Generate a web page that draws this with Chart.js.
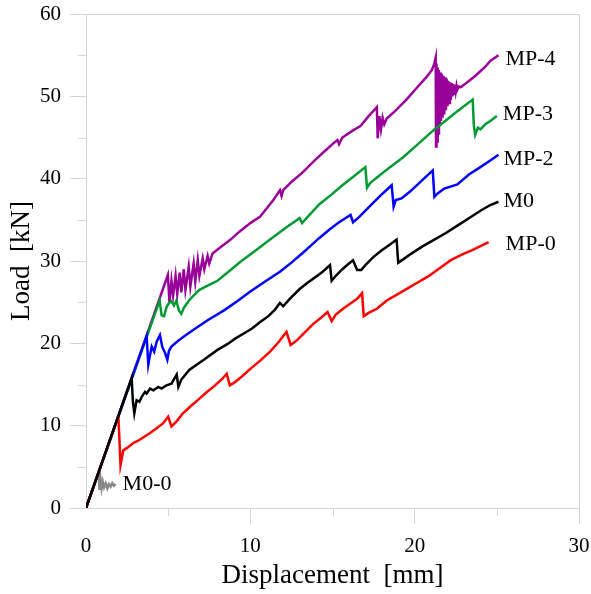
<!DOCTYPE html>
<html>
<head>
<meta charset="utf-8">
<script src="https://cdn.jsdelivr.net/npm/chart.js@4/dist/chart.umd.min.js"></script>
<style>
  html, body { margin: 0; padding: 0; background: #fff; }
  #chart { display: block; }
</style>
</head>
<body>
<canvas id="chart" width="591" height="594"></canvas>
<script>
// Load - displacement curves, [displacement mm, load kN]
const seriesNames = ['M0', 'MP-0', 'MP-2', 'MP-3', 'MP-4', 'M0-0'];

const m0 = [
  [0, 0], [2.78, 15.8], [2.85, 13.0], [2.94, 11.5], [3.08, 13.1], [3.25, 12.9], [3.39, 13.5],
  [3.59, 14.1], [3.69, 13.9], [3.9, 14.5], [4.1, 14.3], [4.4, 14.7], [4.6, 14.5], [4.9, 14.9],
  [5.2, 15.1], [5.52, 16.2], [5.62, 14.7], [5.8, 15.6], [6.3, 16.8], [6.8, 17.5], [7.3, 18.2],
  [8.0, 19.2], [8.6, 19.9], [9.1, 20.6], [9.6, 21.2], [10.1, 21.8], [10.6, 22.6], [11.1, 23.3],
  [11.5, 24.1], [11.8, 24.9], [12.0, 24.5], [12.4, 25.4], [13.0, 26.6], [13.5, 27.4], [14.0, 28.1],
  [14.4, 28.7], [14.85, 29.5], [14.95, 27.6], [15.2, 28.2], [15.6, 29.0], [16.0, 29.7], [16.25, 30.1],
  [16.5, 28.9], [16.75, 28.9], [17.0, 29.5], [17.5, 30.5], [18.0, 31.3], [18.5, 32.0], [18.9, 32.6],
  [19.0, 29.8], [19.3, 30.2], [19.8, 30.9], [20.5, 31.8], [21.2, 32.6], [21.9, 33.4], [22.6, 34.3],
  [23.3, 35.2], [24.0, 36.1], [24.6, 36.8], [25.1, 37.2],
];

const mp0 = [
  [0, 0], [1.97, 11.1], [2.03, 8.5], [2.1, 5.2], [2.27, 7.0], [2.5, 7.3], [2.88, 7.9], [3.2, 8.2],
  [3.5, 8.6], [3.9, 9.1], [4.3, 9.7], [4.7, 10.3], [5.0, 11.1], [5.2, 9.9], [5.5, 10.5], [5.9, 11.5],
  [6.33, 12.3], [6.8, 13.1], [7.3, 14.0], [7.8, 14.8], [8.3, 15.7], [8.56, 16.3], [8.75, 14.9],
  [9.0, 15.2], [9.5, 16.0], [10.0, 16.9], [10.6, 17.9], [11.2, 19.0], [11.7, 20.1], [12.2, 21.4],
  [12.45, 19.8], [12.8, 20.3], [13.3, 21.3], [13.8, 22.3], [14.3, 23.1], [14.7, 23.8], [14.95, 22.7],
  [15.2, 23.5], [15.7, 24.3], [16.2, 25.0], [16.5, 25.4], [16.8, 26.1], [16.9, 23.3], [17.2, 23.7],
  [17.7, 24.2], [18.3, 25.2], [19.0, 26.0], [19.6, 26.7], [20.1, 27.3], [20.8, 28.1], [21.5, 29.1],
  [22.2, 30.1], [22.9, 30.8], [23.6, 31.4], [24.5, 32.3],
];

const mp2 = [
  [0, 0], [3.69, 20.9], [3.79, 17.4], [3.9, 18.6], [4.0, 19.6], [4.15, 19.0], [4.3, 20.2],
  [4.5, 21.0], [4.65, 19.5], [4.8, 18.9], [4.95, 18.0], [5.05, 19.1], [5.2, 19.6], [5.6, 20.3],
  [6.0, 20.9], [6.5, 21.6], [7.4, 22.8], [8.4, 24.0], [9.2, 25.1], [10.0, 26.3], [10.9, 27.5],
  [11.8, 28.7], [12.5, 29.8], [13.2, 31.0], [13.7, 31.9], [14.2, 32.8], [14.8, 33.8], [15.4, 34.7],
  [16.1, 35.6], [16.25, 34.7], [16.6, 35.3], [17.2, 36.5], [17.9, 37.9], [18.6, 39.2], [18.72, 36.6],
  [18.85, 37.4], [19.2, 37.6], [19.7, 38.4], [20.4, 39.7], [21.1, 41.0], [21.2, 37.8], [21.4, 38.2],
  [21.8, 38.8], [22.6, 39.3], [23.3, 40.5], [24.0, 41.4], [24.6, 42.2], [25.1, 42.9],
];

const mp3 = [
  [0, 0], [4.48, 25.2], [4.6, 23.4], [4.75, 23.3], [4.9, 24.4], [5.05, 24.9], [5.2, 25.1],
  [5.35, 24.6], [5.5, 25.2], [5.65, 24.0], [5.8, 23.6], [5.95, 24.3], [6.3, 25.3], [6.9, 26.5],
  [7.4, 27.0], [8.0, 27.6], [8.8, 28.9], [9.4, 29.9], [10.2, 31.1], [11.2, 32.6], [12.2, 34.1],
  [13.0, 35.2], [13.15, 34.6], [13.6, 35.6], [14.2, 36.9], [14.9, 38.0], [15.6, 39.2], [16.3, 40.3],
  [17.0, 41.4], [17.1, 38.9], [17.3, 39.5], [17.8, 40.3], [18.5, 41.4], [19.3, 42.6], [20.2, 44.2],
  [21.1, 45.8], [21.8, 46.9], [22.6, 48.2], [23.53, 49.6], [23.6, 46.5], [23.68, 45.3], [23.85, 46.2],
  [24.0, 46.0], [24.3, 46.6], [24.6, 47.0], [25.0, 47.6],
];

const mp4 = [
  [0, 0], [4.98, 28.3], [5.08, 25.0], [5.2, 27.6], [5.3, 25.8], [5.45, 28.2], [5.55, 26.0],
  [5.7, 28.6], [5.8, 26.2], [5.95, 29.0], [6.05, 26.5], [6.25, 29.3], [6.35, 26.9], [6.55, 29.7],
  [6.65, 27.5], [6.8, 30.1], [6.9, 28.2], [7.1, 30.3], [7.2, 29.0], [7.4, 30.6], [7.5, 29.7],
  [7.7, 30.9], [8.2, 31.7], [8.8, 32.6], [9.3, 33.5], [10.0, 34.6],
  [10.6, 35.4], [11.0, 36.4], [11.4, 37.4], [11.8, 38.6], [11.9, 37.9], [12.0, 38.6], [12.5, 39.6],
  [13.2, 40.8], [13.9, 42.2], [14.5, 43.3], [15.0, 44.2], [15.3, 44.7], [15.4, 44.2], [15.6, 45.0],
  [16.2, 45.8], [16.7, 46.4], [17.2, 47.6], [17.7, 48.7], [17.75, 44.9], [17.85, 47.6], [17.95, 46.0],
  [18.05, 47.4], [18.15, 46.6], [18.3, 47.3], [18.8, 48.2], [19.5, 49.6], [20.2, 51.2], [20.7, 52.3],
  [21.05, 53.2], [21.2, 54.0], [21.28, 54.7], [21.3, 43.9], [21.33, 54.0], [21.36, 44.5], [21.4, 53.5],
  [21.44, 45.5], [21.48, 53.2], [21.52, 46.5], [21.56, 52.9], [21.6, 47.0], [21.65, 52.7], [21.7, 47.4],
  [21.75, 52.5], [21.8, 47.8], [21.85, 52.3], [21.9, 48.3], [21.95, 52.1], [22.0, 48.8], [22.05, 51.9],
  [22.1, 49.2], [22.15, 51.7], [22.2, 49.6], [22.25, 51.6], [22.3, 50.0], [22.35, 51.5], [22.4, 50.3],
  [22.45, 51.4], [22.5, 50.6], [22.55, 51.3], [22.6, 50.8], [22.7, 51.2], [22.8, 51.1], [23.2, 51.7],
  [23.7, 52.5], [24.3, 53.6], [24.6, 54.3], [25.1, 55.0],
];

const m00 = [
  [0, 0], [0.78, 4.4], [0.82, 2.2], [0.88, 3.6], [0.95, 2.4], [1.02, 3.2], [1.1, 2.5], [1.2, 3.0],
  [1.3, 2.4], [1.4, 2.9], [1.5, 2.6], [1.6, 3.0], [1.7, 2.7], [1.8, 2.9],
];

const seriesData = [m0, mp0, mp2, mp3, mp4, m00];
const seriesColors = ['#000000', '#ff0000', '#0000ff', '#009933', '#990099', '#888888'];
// pixel offset of each end label from the last point of its curve
const labelOffsets = [[5, -1], [17, 2], [5, 4], [6, -2], [7, 4], [7, 0]];

const xTicks = [0, 10, 20, 30];
const yTicks = [0, 10, 20, 30, 40, 50, 60];

const FONT = "'Liberation Serif', 'Times New Roman', serif";
const FRAME = '#d4d4d4';

// Рамка и короткие деления (5, 15, 25 ...)
const framePlugin = {
  id: 'frame',
  beforeDatasetsDraw(chart) {
    const { ctx, chartArea: a, scales } = chart;
    ctx.save();
    ctx.strokeStyle = FRAME;
    ctx.lineWidth = 1;
    ctx.strokeRect(a.left + 0.5, a.top + 0.5, a.right - a.left, a.bottom - a.top);
    ctx.beginPath();
    for (let v = 5; v < 30; v += 10) {
      const px = Math.round(scales.x.getPixelForValue(v)) + 0.5;
      ctx.moveTo(px, a.bottom);
      ctx.lineTo(px, a.bottom + 8);
    }
    for (let v = 5; v < 60; v += 10) {
      const py = Math.round(scales.y.getPixelForValue(v)) + 0.5;
      ctx.moveTo(a.left - 8, py);
      ctx.lineTo(a.left, py);
    }
    ctx.stroke();
    ctx.restore();
  },
};

// Подписи серий у конца каждой кривой
const endLabelPlugin = {
  id: 'endLabels',
  afterDatasetsDraw(chart) {
    const { ctx, scales } = chart;
    ctx.save();
    ctx.font = `22px ${FONT}`;
    ctx.fillStyle = '#000';
    ctx.textAlign = 'left';
    ctx.textBaseline = 'middle';
    chart.data.datasets.forEach((ds, i) => {
      const last = ds.data[ds.data.length - 1];
      const px = scales.x.getPixelForValue(last.x) + labelOffsets[i][0];
      const py = scales.y.getPixelForValue(last.y) + labelOffsets[i][1];
      ctx.fillText(ds.label, px, py);
    });
    ctx.restore();
  },
};

const majorTickColor = (ticks) => (ctx) =>
  ctx.tick && ticks.includes(ctx.tick.value) ? FRAME : 'rgba(0,0,0,0)';

new Chart(document.getElementById('chart'), {
  type: 'scatter',
  data: {
    datasets: seriesData.map((pts, i) => ({
      label: seriesNames[i],
      data: pts.map(([x, y]) => ({ x, y })),
      showLine: true,
      borderColor: seriesColors[i],
      backgroundColor: seriesColors[i],
      borderWidth: 2.5,
      pointRadius: 0,
      tension: 0,
    })),
  },
  options: {
    responsive: false,
    animation: false,
    events: [],
    layout: { padding: { top: 14, right: 12, left: 0, bottom: 0 } },
    plugins: {
      legend: { display: false },
      tooltip: { enabled: false },
    },
    scales: {
      x: {
        type: 'linear',
        min: 0,
        max: 30,
        afterFit: (scale) => {
          scale.height = 86;
          scale.paddingLeft = 0;
          scale.paddingRight = 0;
        },
        afterBuildTicks: (scale) => {
          scale.ticks = [0, 5, 10, 15, 20, 25, 30].map((v) => ({ value: v }));
        },
        ticks: {
          callback: (v) => (xTicks.includes(v) ? v : ''),
          color: '#000',
          font: { family: FONT, size: 21 },
          padding: 10,
          maxRotation: 0,
          autoSkip: false,
        },
        grid: {
          drawOnChartArea: false,
          drawTicks: true,
          tickLength: 16,
          color: FRAME,
          tickColor: (ctx) => (ctx.tick && ctx.tick.value !== 0 && xTicks.includes(ctx.tick.value) ? FRAME : 'rgba(0,0,0,0)'),
        },
        border: { display: false },
        title: {
          display: true,
          text: 'Displacement  [mm]',
          color: '#000',
          font: { family: FONT, size: 27 },
          padding: { top: 0, bottom: 2 },
        },
      },
      y: {
        type: 'linear',
        min: 0,
        max: 60,
        afterFit: (scale) => {
          scale.width = 86;
          scale.paddingTop = 0;
          scale.paddingBottom = 0;
        },
        afterBuildTicks: (scale) => {
          scale.ticks = yTicks.map((v) => ({ value: v }));
        },
        ticks: {
          color: '#000',
          font: { family: FONT, size: 21 },
          padding: 9,
        },
        grid: {
          drawOnChartArea: false,
          drawTicks: true,
          tickLength: 16,
          color: FRAME,
          tickColor: majorTickColor(yTicks),
        },
        border: { display: false },
        title: {
          display: true,
          text: 'Load  [kN]',
          color: '#000',
          font: { family: FONT, size: 27 },
          padding: { top: 6, bottom: 0 },
        },
      },
    },
  },
  plugins: [framePlugin, endLabelPlugin],
});
</script>
</body>
</html>
